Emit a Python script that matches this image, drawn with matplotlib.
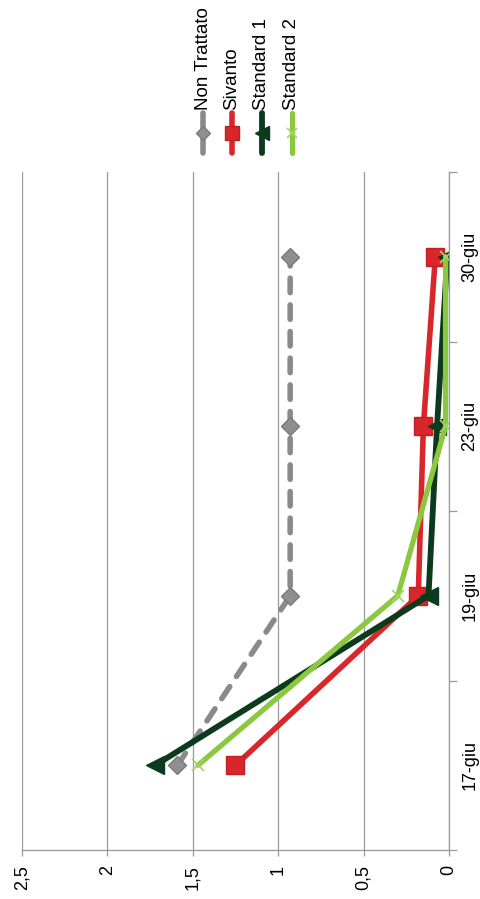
import matplotlib
matplotlib.use("Agg")
import matplotlib.pyplot as plt
import numpy as np
from matplotlib.lines import Line2D

plt.rcParams['font.family'] = ['Liberation Sans', 'DejaVu Sans']

# date di campionamento e valori medi per foglia
date = ['17-giu', '19-giu', '23-giu', '30-giu']
non_trattato = [1.59, 0.93, 0.93, 0.93]
sivanto = [1.25, 0.18, 0.15, 0.08]
standard_1 = [1.72, 0.12, 0.07, 0.01]
standard_2 = [1.47, 0.30, 0.02, 0.02]

valori_tick = [2.5, 2.0, 1.5, 1.0, 0.5, 0.0]
etichette_tick = ['2,5', '2', '1,5', '1', '0,5', '0']

serie = [
    ('Non Trattato', non_trattato, dict(color='#8a8a8a', ls=(0, (2.6, 2.2)), lw=4.0,
                                         dash_capstyle='round',
                                         marker='D', ms=9, mfc='#8f8f8f', mec='#7a7a7a')),
    ('Sivanto', sivanto, dict(color='#d8262b', ls='-', lw=4.0,
                              marker='s', ms=13, mfc='#d8262b', mec='#c01f24')),
    ('Standard 1', standard_1, dict(color='#0b3b1c', ls='-', lw=4.2,
                                    marker='<', ms=13, mfc='#0b3b1c', mec='#0b3b1c')),
    ('Standard 2', standard_2, dict(color='#8cc83f', ls='-', lw=3.8,
                                    marker='x', ms=9, mew=1.2, mec='#a6d36a')),
]

fig = plt.figure(figsize=(4.8, 8.99), dpi=100)
ax = fig.add_axes([22 / 480, 1 - 850 / 899, 427 / 480, 678 / 899])

# grafico ruotato: valori sull'asse orizzontale (0 a destra), date dal basso verso l'alto
pos = np.arange(len(date)) + 0.5
for nome, valori, stile in serie:
    ax.plot(valori, pos, label=nome, solid_capstyle='round', **stile)

ax.set_xlim(2.5, 0)
ax.set_ylim(0, len(date))

ax.set_xticks(valori_tick)
ax.set_xticklabels(etichette_tick, rotation=90, fontsize=13, va='top')
ax.xaxis.grid(True, color='#9a9a9a', lw=0.9)
ax.set_axisbelow(True)
ax.tick_params(axis='x', length=4, width=0.9, color='#9a9a9a', pad=7)

ax.yaxis.tick_right()
ax.set_yticks(np.arange(len(date) + 1))
ax.set_yticklabels([])
ax.set_yticks(pos, minor=True)
ax.set_yticklabels(date, minor=True, rotation=90, fontsize=13, va='center')
ax.tick_params(axis='y', which='major', length=6, width=0.9, color='#9a9a9a', right=True, left=False)
ax.tick_params(axis='y', which='minor', length=0, pad=9, right=True, left=False)

for lato in ['top', 'left']:
    ax.spines[lato].set_visible(False)
for lato in ['bottom', 'right']:
    ax.spines[lato].set_color('#9a9a9a')
    ax.spines[lato].set_linewidth(0.9)

# legenda verticale in alto a destra
x_leg = [203, 232, 262, 292]
for (nome, valori, stile), xp in zip(serie, x_leg):
    xf = xp / 480
    st = dict(stile)
    st['ms'] = st['ms'] * 0.75
    st['ls'] = '-'
    h = Line2D([xf, xf, xf], [1 - 153 / 899, 1 - 133 / 899, 1 - 113 / 899],
               transform=fig.transFigure, markevery=[1], solid_capstyle='round', **st)
    fig.add_artist(h)
    fig.text(xf, 1 - 110 / 899, nome, rotation=90, ha='center', va='bottom', fontsize=13.5)

fig.savefig('out.png', dpi=100)
